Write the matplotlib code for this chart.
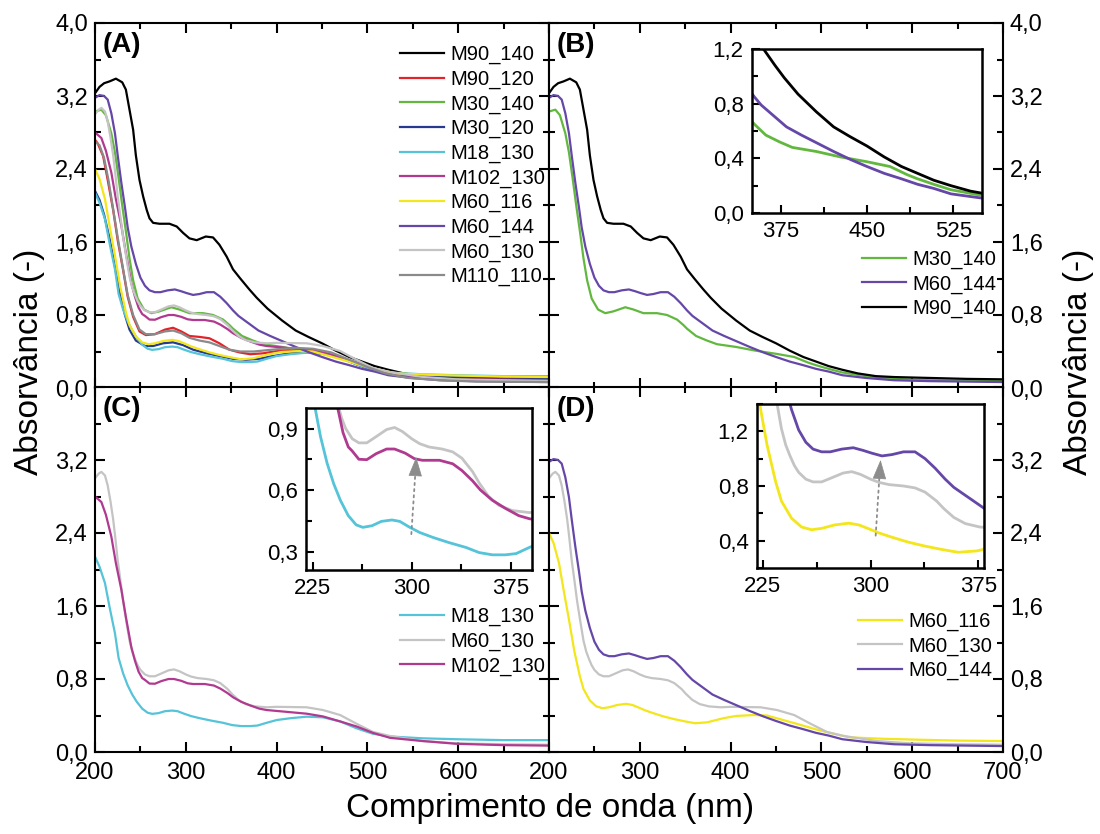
import matplotlib
matplotlib.use('Agg')
import matplotlib.pyplot as plt
from matplotlib.ticker import MultipleLocator, FuncFormatter
from matplotlib import font_manager

# absorbance spectra (wavelength nm, absorbance)
wl_m90_140 = [200, 205, 210, 216, 223, 230, 234, 238, 242, 245, 249, 253, 257, 260, 264, 271, 282, 290, 297, 304,
              312, 322, 330, 337, 345, 352, 360, 370, 378, 390, 406, 421, 435, 450, 465, 480, 494, 508, 523, 540,
              560, 580, 620, 660, 700]
ab_m90_140 = [3.23, 3.30, 3.34, 3.36, 3.39, 3.35, 3.27, 3.05, 2.83, 2.55, 2.28, 2.10, 1.95, 1.86, 1.81, 1.80, 1.80,
              1.77, 1.70, 1.64, 1.62, 1.66, 1.65, 1.57, 1.44, 1.30, 1.20, 1.08, 0.99, 0.87, 0.74, 0.63, 0.56, 0.49,
              0.41, 0.34, 0.29, 0.24, 0.20, 0.16, 0.13, 0.12, 0.11, 0.10, 0.095]

wl_m60_144 = [200, 205, 210, 214, 218, 222, 225, 229, 233, 236, 240, 245, 250, 255, 260, 266, 272, 280, 288, 295,
              301, 308, 315, 323, 331, 338, 345, 352, 358, 369, 380, 393, 407, 421, 436, 450, 465, 480, 494, 508,
              523, 549, 580, 620, 660, 700]
ab_m60_144 = [3.18, 3.21, 3.20, 3.16, 3.01, 2.79, 2.55, 2.25, 1.98, 1.76, 1.55, 1.36, 1.21, 1.12, 1.07, 1.05, 1.05,
              1.07, 1.08, 1.06, 1.04, 1.02, 1.03, 1.05, 1.05, 1.00, 0.93, 0.85, 0.79, 0.71, 0.63, 0.57, 0.51, 0.45,
              0.39, 0.34, 0.29, 0.25, 0.21, 0.18, 0.14, 0.11, 0.085, 0.075, 0.07, 0.065]

wl_m30_140 = [200, 207, 212, 218, 222, 226, 230, 234, 238, 242, 247, 254, 262, 271, 284, 293, 304, 319, 330, 341,
              348, 352, 362, 374, 385, 406, 427, 450, 470, 485, 494, 508, 523, 549, 580, 620, 660, 700]
ab_m30_140 = [3.03, 3.05, 2.99, 2.79, 2.58, 2.30, 2.00, 1.72, 1.42, 1.18, 0.98, 0.86, 0.82, 0.84, 0.885, 0.86, 0.82,
              0.82, 0.80, 0.75, 0.69, 0.65, 0.57, 0.52, 0.48, 0.45, 0.41, 0.375, 0.34, 0.28, 0.25, 0.21, 0.17, 0.13,
              0.10, 0.085, 0.08, 0.075]

wl_m60_130 = [200, 204, 207, 211, 214, 217, 220, 222, 225, 228, 231, 235, 238, 241, 244, 247, 250, 255, 260, 266,
              273, 281, 287, 293, 300, 306, 313, 323, 331, 338, 346, 351, 358, 366, 376, 389, 400, 433, 451, 470,
              488, 506, 525, 561, 598, 650, 700]
ab_m60_130 = [3.00, 3.05, 3.07, 3.03, 2.92, 2.75, 2.55, 2.38, 2.10, 1.88, 1.65, 1.40, 1.22, 1.10, 1.02, 0.95, 0.90,
              0.85, 0.83, 0.83, 0.86, 0.895, 0.905, 0.885, 0.85, 0.826, 0.81, 0.80, 0.786, 0.755, 0.69, 0.635, 0.57,
              0.525, 0.50, 0.49, 0.495, 0.49, 0.46, 0.405, 0.31, 0.22, 0.175, 0.12, 0.095, 0.085, 0.08]

wl_m102_130 = [200, 207, 212, 218, 223, 229, 234, 240, 244, 248, 252, 255, 260, 266, 273, 281, 287, 295, 302, 308,
               321, 331, 338, 346, 352, 361, 371, 381, 389, 400, 433, 451, 470, 488, 506, 525, 561, 598, 650, 700]
ab_m102_130 = [2.80, 2.74, 2.60, 2.36, 2.07, 1.78, 1.48, 1.15, 1.00, 0.88, 0.81, 0.79, 0.75, 0.748, 0.777, 0.80,
               0.80, 0.78, 0.753, 0.745, 0.745, 0.728, 0.695, 0.645, 0.60, 0.55, 0.51, 0.475, 0.46, 0.45, 0.42, 0.39,
               0.335, 0.28, 0.21, 0.155, 0.12, 0.09, 0.075, 0.07]

wl_m18_130 = [200, 205, 211, 216, 222, 226, 231, 236, 241, 246, 252, 258, 263, 270, 277, 285, 291, 298, 306, 316,
              328, 341, 351, 361, 371, 379, 389, 400, 415, 433, 451, 470, 488, 506, 525, 561, 598, 650, 700]
ab_m18_130 = [2.14, 2.03, 1.85, 1.59, 1.30, 1.03, 0.86, 0.73, 0.63, 0.55, 0.475, 0.43, 0.418, 0.426, 0.447, 0.454,
              0.447, 0.42, 0.393, 0.369, 0.344, 0.32, 0.295, 0.284, 0.284, 0.29, 0.32, 0.35, 0.37, 0.387, 0.38,
              0.335, 0.26, 0.20, 0.17, 0.15, 0.14, 0.13, 0.13]

wl_m60_116 = [200, 205, 211, 216, 222, 228, 234, 238, 245, 252, 259, 266, 275, 285, 292, 299, 306, 315, 326, 338,
              350, 361, 374, 392, 406, 425, 440, 458, 476, 495, 513, 532, 568, 605, 650, 700]
ab_m60_116 = [2.40, 2.29, 2.07, 1.78, 1.45, 1.10, 0.83, 0.69, 0.565, 0.50, 0.48, 0.49, 0.515, 0.528, 0.515, 0.486,
              0.456, 0.425, 0.39, 0.36, 0.335, 0.315, 0.325, 0.37, 0.395, 0.405, 0.40, 0.35, 0.30, 0.245, 0.20,
              0.16, 0.145, 0.135, 0.125, 0.12]

wl_m90_120 = [200, 203, 209, 214, 220, 225, 231, 236, 242, 249, 256, 266, 277, 286, 295, 304, 315, 326, 337, 348,
              359, 371, 385, 404, 422, 440, 462, 481, 499, 517, 543, 580, 640, 700]
ab_m90_120 = [2.72, 2.68, 2.54, 2.28, 1.95, 1.62, 1.29, 1.00, 0.78, 0.62, 0.58, 0.59, 0.64, 0.66, 0.62, 0.57, 0.56,
              0.545, 0.49, 0.42, 0.39, 0.37, 0.38, 0.41, 0.42, 0.415, 0.36, 0.29, 0.22, 0.17, 0.14, 0.117, 0.11, 0.105]

wl_m30_120 = [200, 205, 210, 216, 222, 227, 233, 238, 245, 255, 264, 275, 286, 297, 308, 323, 337, 352, 366, 381,
              396, 415, 433, 451, 470, 488, 506, 525, 560, 600, 650, 700]
ab_m30_120 = [2.16, 2.06, 1.90, 1.64, 1.33, 1.05, 0.80, 0.64, 0.52, 0.46, 0.46, 0.49, 0.50, 0.47, 0.42, 0.38, 0.35,
              0.32, 0.31, 0.32, 0.35, 0.38, 0.39, 0.375, 0.33, 0.26, 0.20, 0.16, 0.13, 0.12, 0.115, 0.11]

wl_m110_110 = [200, 205, 210, 215, 220, 225, 231, 236, 242, 249, 256, 266, 277, 286, 295, 304, 315, 326, 337, 348,
               360, 375, 395, 420, 440, 460, 480, 500, 520, 545, 580, 620, 700]
ab_m110_110 = [2.70, 2.66, 2.52, 2.27, 1.96, 1.65, 1.30, 1.02, 0.80, 0.64, 0.59, 0.59, 0.62, 0.63, 0.60, 0.55, 0.52,
               0.50, 0.46, 0.42, 0.40, 0.40, 0.42, 0.44, 0.43, 0.39, 0.31, 0.23, 0.16, 0.11, 0.085, 0.07, 0.065]

series = {
    'M90_140': (wl_m90_140, ab_m90_140, '#000000'),
    'M90_120': (wl_m90_120, ab_m90_120, '#e3232a'),
    'M30_140': (wl_m30_140, ab_m30_140, '#62b83f'),
    'M30_120': (wl_m30_120, ab_m30_120, '#263b8e'),
    'M18_130': (wl_m18_130, ab_m18_130, '#55c3d8'),
    'M102_130': (wl_m102_130, ab_m102_130, '#b03a90'),
    'M60_116': (wl_m60_116, ab_m60_116, '#f3e61a'),
    'M60_144': (wl_m60_144, ab_m60_144, '#6547a8'),
    'M60_130': (wl_m60_130, ab_m60_130, '#c4c4c4'),
    'M110_110': (wl_m110_110, ab_m110_110, '#8a8a8a'),
}

panel_a = ['M90_140', 'M90_120', 'M30_140', 'M30_120', 'M18_130', 'M102_130', 'M60_116', 'M60_144', 'M60_130',
           'M110_110']
panel_b = ['M30_140', 'M60_144', 'M90_140']
panel_c = ['M18_130', 'M60_130', 'M102_130']
panel_d = ['M60_116', 'M60_130', 'M60_144']

names = {f.name for f in font_manager.fontManager.ttflist}
narrow = 'Liberation Sans Narrow' if 'Liberation Sans Narrow' in names else None
plt.rcParams['font.family'] = 'Liberation Sans'
main_font = narrow if narrow else 'Liberation Sans'
tick_size = 21 if narrow else 17
label_size = 28 if narrow else 24


def fmt_hide(hide, dec):
    def f(v, p):
        if any(abs(v - h) < 1e-6 for h in hide):
            return ''
        return f"{v:.{dec}f}".replace('.', ',')
    return FuncFormatter(f)


fig = plt.figure(figsize=(11, 8.34), dpi=100)

W = 454 / 1100
H = 365 / 834
lefts = [95 / 1100, 549 / 1100]
bottoms = [1 - 388 / 834, 1 - 752 / 834]

axes = {}
for r, key_row in enumerate([['A', 'B'], ['C', 'D']]):
    for c, key in enumerate(key_row):
        ax = fig.add_axes([lefts[c], bottoms[r], W, H])
        axes[key] = ax
        ax.set_xlim(200, 700)
        ax.set_ylim(0, 4.0)
        ax.xaxis.set_major_locator(MultipleLocator(100))
        ax.xaxis.set_minor_locator(MultipleLocator(50))
        ax.yaxis.set_major_locator(MultipleLocator(0.8))
        ax.yaxis.set_minor_locator(MultipleLocator(0.4))
        ax.tick_params(which='both', direction='in', top=True, right=True, bottom=True, left=True, width=1.5)
        ax.tick_params(which='major', length=7)
        ax.tick_params(which='minor', length=4)
        ax.tick_params(labelleft=(c == 0), labelright=(c == 1), labelbottom=(r == 1), labeltop=False,
                       labelsize=tick_size)
        ax.tick_params(axis='y', pad=5)
        ax.tick_params(axis='x', pad=7)
        for t in ax.get_xticklabels() + ax.get_yticklabels():
            t.set_fontfamily(main_font)
        ax.xaxis.set_major_formatter(fmt_hide([700] if c == 0 else [], 0))
        ax.yaxis.set_major_formatter(fmt_hide([4.0] if r == 1 else [], 1))
        for s in ax.spines.values():
            s.set_linewidth(1.5)
        ax.text(0.016, 0.975, '(' + key + ')', transform=ax.transAxes, ha='left', va='top',
                fontsize=20, fontweight='bold')

for key, names_list in zip('ABCD', [panel_a, panel_b, panel_c, panel_d]):
    for n in names_list:
        x, y, col = series[n]
        axes[key].plot(x, y, color=col, lw=1.6, label=n)

leg_pos = {'A': (400 / 1100, 0.946), 'B': (862 / 1100, 0.7006), 'C': (400 / 1100, 0.272),
           'D': (858 / 1100, 0.2666)}
for key, (lx, ly) in leg_pos.items():
    axes[key].legend(loc='upper left', bbox_to_anchor=(lx, ly), bbox_transform=fig.transFigure, frameon=False,
                     fontsize=14.5, handlelength=2.2, handletextpad=0.3, labelspacing=0.27, borderpad=0,
                     borderaxespad=0)

# insets
inset_spec = {
    'B': ([752 / 1100, 1 - 213 / 834, 230 / 1100, 164 / 834], (350, 550), (0, 1.2), [375, 450, 525],
          [412.5, 487.5], 0.4, panel_b),
    'C': ([306 / 1100, 1 - 570 / 834, 226 / 1100, 162 / 834], (220, 391), (0.21, 1.0), [225, 300, 375],
          [262.5, 337.5], 0.3, panel_c),
    'D': ([757 / 1100, 1 - 568 / 834, 227 / 1100, 164 / 834], (221, 379), (0.2, 1.4), [225, 300, 375],
          [262.5, 337.5], 0.4, panel_d),
}
insets = {}
for key, (rect, xl, yl, xmaj, xmin, ystep, names_list) in inset_spec.items():
    ins = fig.add_axes(rect)
    insets[key] = ins
    for n in names_list:
        x, y, col = series[n]
        ins.plot(x, y, color=col, lw=2.0)
    ins.set_xlim(*xl)
    ins.set_ylim(*yl)
    ins.set_xticks(xmaj)
    ins.set_xticks(xmin, minor=True)
    ins.yaxis.set_major_locator(MultipleLocator(ystep))
    ins.yaxis.set_minor_locator(MultipleLocator(ystep / 2))
    ins.xaxis.set_major_formatter(FuncFormatter(lambda v, p: f"{v:.0f}"))
    ins.yaxis.set_major_formatter(FuncFormatter(lambda v, p: f"{v:.1f}".replace('.', ',')))
    ins.tick_params(which='both', direction='in', top=False, right=False, width=1.5, labelsize=16, pad=6)
    ins.tick_params(which='major', length=6)
    ins.tick_params(which='minor', length=4)
    for s in ins.spines.values():
        s.set_linewidth(1.8)

# dotted guide with a solid head, pointing from the lower to the upper spectrum
line_kw = dict(arrowstyle='-', color='#8c8c8c', lw=1.3, linestyle=(0, (1.2, 2.2)), shrinkA=0, shrinkB=0)
head_kw = dict(arrowstyle='-|>,head_length=0.9,head_width=0.32', color='#8c8c8c', lw=0.5,
               mutation_scale=14, shrinkA=0, shrinkB=0)
insets['C'].annotate('', xy=(302.7, 0.68), xytext=(299.7, 0.385), arrowprops=line_kw)
insets['C'].annotate('', xy=(303.4, 0.76), xytext=(302.9, 0.70), arrowprops=head_kw)
insets['D'].annotate('', xy=(306.4, 0.90), xytext=(303.6, 0.437), arrowprops=line_kw)
insets['D'].annotate('', xy=(307, 0.99), xytext=(306.6, 0.92), arrowprops=head_kw)

fig.text(0.027, 0.566, 'Absorvância (-)', rotation=90, ha='center', va='center', fontsize=label_size,
         fontfamily=main_font)
fig.text(0.98, 0.566, 'Absorvância (-)', rotation=90, ha='center', va='center', fontsize=label_size,
         fontfamily=main_font)
fig.text(0.5, 0.031, 'Comprimento de onda (nm)', ha='center', va='center', fontsize=label_size,
         fontfamily=main_font)

fig.savefig('out.png', dpi=100)
